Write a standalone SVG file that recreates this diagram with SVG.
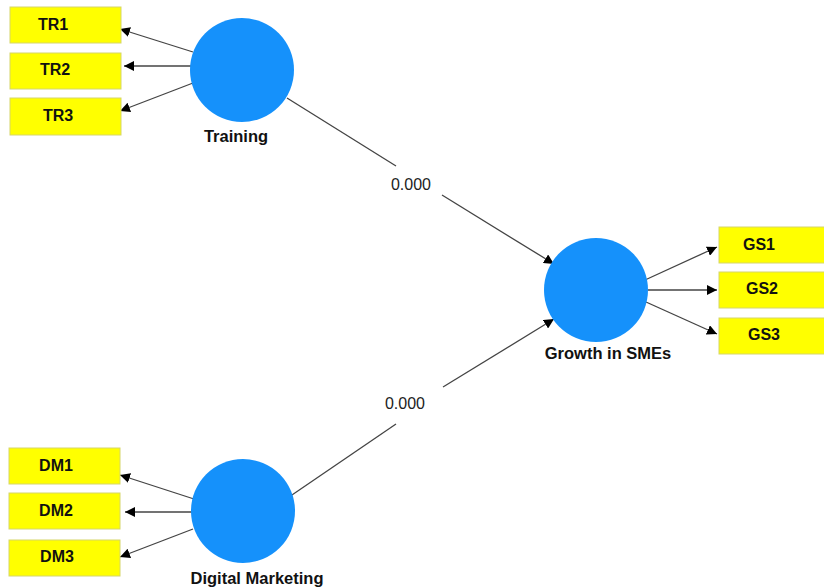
<svg xmlns="http://www.w3.org/2000/svg" width="824" height="588" viewBox="0 0 824 588">
  <style>
    .ind rect { fill: #ffff00; stroke: #d6d66a; stroke-width: 1; }
    .ind text { font-family: "Liberation Sans", Arial, sans-serif; font-weight: bold; font-size: 16px; fill: #111; text-anchor: middle; }
    .lv circle { fill: #1591fb; }
    .lv text { font-family: "Liberation Sans", Arial, sans-serif; font-weight: bold; font-size: 16.5px; fill: #111; text-anchor: middle; }
    .edge { stroke: #444; stroke-width: 1.3; fill: none; }
    .arr { marker-end: url(#head); }
    .coef { font-family: "Liberation Sans", Arial, sans-serif; font-size: 16px; fill: #222; text-anchor: middle; }
  </style>
  <defs>
    <marker id="head" viewBox="0 0 10 10" refX="10" refY="5" markerWidth="10" markerHeight="10" markerUnits="userSpaceOnUse" orient="auto">
      <path d="M0,0 L10,5 L0,10 z" fill="#000"/>
    </marker>
  </defs>
  <rect width="824" height="588" fill="#fff"/>

  <!-- connectors -->
  <g id="connectors">
    <!-- Training loadings -->
    <line class="edge arr" x1="193" y1="52" x2="120" y2="29"/>
    <line class="edge arr" x1="193" y1="66" x2="124" y2="66"/>
    <line class="edge arr" x1="193" y1="83" x2="120" y2="111"/>
    <!-- Digital Marketing loadings -->
    <line class="edge arr" x1="194" y1="499" x2="120" y2="475"/>
    <line class="edge arr" x1="194" y1="512" x2="125" y2="512"/>
    <line class="edge arr" x1="193" y1="529" x2="120" y2="557"/>
    <!-- Growth loadings -->
    <line class="edge arr" x1="645" y1="280" x2="717" y2="247"/>
    <line class="edge arr" x1="648" y1="290" x2="717" y2="290"/>
    <line class="edge arr" x1="646" y1="302" x2="717" y2="334"/>
    <!-- Training -> Growth -->
    <line class="edge" x1="287" y1="98" x2="396" y2="166"/>
    <line class="edge arr" x1="442" y1="195" x2="554" y2="264"/>
    <text class="coef" x="411" y="190">0.000</text>
    <!-- Digital Marketing -> Growth -->
    <line class="edge" x1="289" y1="497" x2="396" y2="424"/>
    <line class="edge arr" x1="443" y1="387" x2="554" y2="319"/>
    <text class="coef" x="405" y="409">0.000</text>
  </g>

  <g id="TR1" class="ind"><rect x="10" y="7" width="111" height="36"/><text x="53" y="30">TR1</text></g>
  <g id="TR2" class="ind"><rect x="10" y="53" width="111" height="36"/><text x="55" y="75">TR2</text></g>
  <g id="TR3" class="ind"><rect x="10" y="98" width="111" height="37"/><text x="58" y="121">TR3</text></g>

  <g id="DM1" class="ind"><rect x="9" y="448" width="111" height="36"/><text x="56" y="471">DM1</text></g>
  <g id="DM2" class="ind"><rect x="9" y="493" width="111" height="36"/><text x="56" y="516">DM2</text></g>
  <g id="DM3" class="ind"><rect x="9" y="540" width="111" height="36"/><text x="57" y="562">DM3</text></g>

  <g id="GS1" class="ind"><rect x="719" y="227" width="110" height="36"/><text x="759" y="250">GS1</text></g>
  <g id="GS2" class="ind"><rect x="719" y="272" width="110" height="36"/><text x="762" y="294">GS2</text></g>
  <g id="GS3" class="ind"><rect x="719" y="318" width="110" height="36"/><text x="764" y="340">GS3</text></g>

  <g id="Training" class="lv"><circle cx="242" cy="70" r="52"/><text x="236" y="142">Training</text></g>
  <g id="GrowthSMEs" class="lv"><circle cx="596" cy="290" r="52"/><text x="608" y="359">Growth in SMEs</text></g>
  <g id="DigitalMarketing" class="lv"><circle cx="243" cy="511" r="52"/><text x="257" y="584">Digital Marketing</text></g>
</svg>
